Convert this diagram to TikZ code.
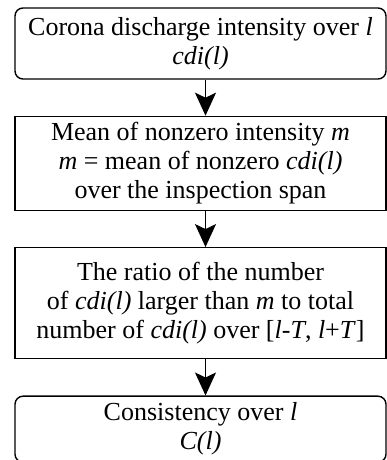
\documentclass[tikz,border=0pt]{standalone}
\usepackage{fontspec}
\setmainfont{Liberation Serif}
\usepackage{tikz}
\usetikzlibrary{arrows.meta,positioning}

\begin{document}
\begin{tikzpicture}[
    x=1pt,y=1pt,
    node distance=36pt,
    flowbox/.style={draw=black,line width=1.4pt,minimum width=371pt,inner sep=2pt,
      align=center,font=\fontsize{26}{29}\selectfont},
    endbox/.style={flowbox,rounded corners=8pt},
    arr/.style={-{Stealth[length=23pt,width=21pt,inset=5pt]},line width=1.5pt}
  ]
    \useasboundingbox (0,0) rectangle (387,460);
    \node[endbox,minimum height=71pt] (cdi) at (200.5,416.5)
      {Corona discharge intensity over \textit{l}\\ \textit{cdi(l)}};
    \node[flowbox,minimum height=94pt,below=of cdi] (mean)
      {Mean of nonzero intensity \textit{m}\\ \textit{m} = mean of nonzero \textit{cdi(l)}\\ over the inspection span};
    \node[flowbox,minimum height=111pt,below=of mean] (ratio)
      {The ratio of the number\\ of \textit{cdi(l)} larger than \textit{m} to total\\ number of \textit{cdi(l)} over [\textit{l}-\textit{T}, \textit{l}+\textit{T}]};
    \node[endbox,minimum height=66pt,below=of ratio] (cons)
      {Consistency over \textit{l}\\ \textit{C(l)}};
    \draw[arr] ([xshift=5pt]cdi.south)--([xshift=5pt]mean.north);
    \draw[arr] ([xshift=5pt]mean.south)--([xshift=5pt]ratio.north);
    \draw[arr] ([xshift=5pt]ratio.south)--([xshift=5pt]cons.north);
  \end{tikzpicture}
\end{document}
